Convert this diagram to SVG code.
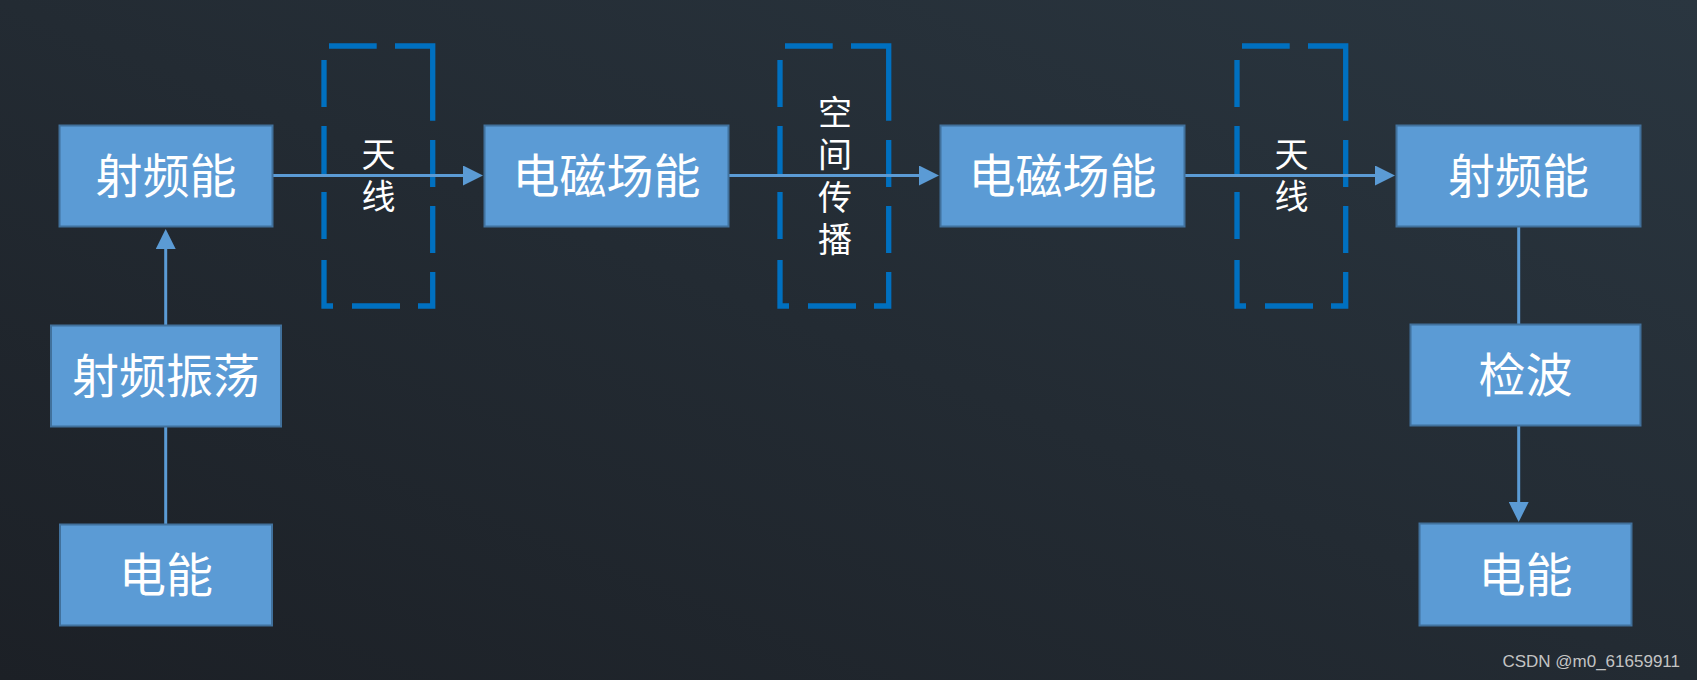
<svg xmlns="http://www.w3.org/2000/svg" width="1697" height="680" viewBox="0 0 1697 680">
<style>
.box{fill:#5B9BD5;stroke:#41719C;stroke-width:2}
.lbl{font-family:"Noto Sans CJK SC","Noto Sans",sans-serif;font-size:47px;fill:#ffffff;text-anchor:middle}
.ant{fill:none;stroke:#0070C0;stroke-width:5.3;stroke-linejoin:miter;stroke-linecap:butt}
.alb{font-family:"Noto Sans CJK SC","Noto Sans",sans-serif;font-size:34px;fill:#ffffff;text-anchor:middle;writing-mode:vertical-rl;letter-spacing:8px}
.con{fill:none;stroke:#5B9BD5;stroke-width:3}
</style>
<defs>
<linearGradient id="bg" x1="0" y1="1" x2="1" y2="0">
<stop offset="0" stop-color="#1c2026"/>
<stop offset="1" stop-color="#2a3640"/>
</linearGradient>
<marker id="ah" viewBox="0 0 20 20" refX="10" refY="10" markerWidth="20" markerHeight="20" markerUnits="userSpaceOnUse" orient="auto">
<path d="M0,0 L20,10 L0,20 Z" fill="#5B9BD5"/>
</marker>
<path id="dash" class="ant" d="M5,0 H52.7 M71,0 H108.7 V74.7 M108.7,94 V141 M108.7,160 V207 M108.7,226 V260 H94 M76,260 H28 M9,260 H0 V214 M0,193 V146 M0,128 V80 M0,61 V14"/>
</defs>
<rect width="1697" height="680" fill="url(#bg)"/>

<g id="antenna1">
<use href="#dash" transform="translate(324,46)"/>
<text class="alb" x="378.5" y="179">天线</text>
</g>
<g id="space">
<use href="#dash" transform="translate(780,46)"/>
<text class="alb" x="835" y="180" style="letter-spacing:8.5px">空间传播</text>
</g>
<g id="antenna2">
<use href="#dash" transform="translate(1237,46)"/>
<text class="alb" x="1291.5" y="179">天线</text>
</g>

<g id="connectors">
<line class="con" x1="273" y1="175.5" x2="473" y2="175.5" marker-end="url(#ah)"/>
<line class="con" x1="729" y1="175.5" x2="929" y2="175.5" marker-end="url(#ah)"/>
<line class="con" x1="1185" y1="175.5" x2="1385" y2="175.5" marker-end="url(#ah)"/>
<line class="con" x1="165.7" y1="325" x2="165.7" y2="239" marker-end="url(#ah)"/>
<line class="con" x1="165.7" y1="427" x2="165.7" y2="524"/>
<line class="con" x1="1518.7" y1="227" x2="1518.7" y2="324"/>
<line class="con" x1="1518.7" y1="426" x2="1518.7" y2="512" marker-end="url(#ah)"/>
</g>

<g id="rf1">
<rect class="box" x="59.5" y="125.5" width="213" height="101"/>
<text class="lbl" x="166" y="193">射频能</text>
</g>
<g id="em1">
<rect class="box" x="484.5" y="125.5" width="244" height="101"/>
<text class="lbl" x="606.5" y="193">电磁场能</text>
</g>
<g id="em2">
<rect class="box" x="940.5" y="125.5" width="244" height="101"/>
<text class="lbl" x="1062.5" y="193">电磁场能</text>
</g>
<g id="rf2">
<rect class="box" x="1396.5" y="125.5" width="244" height="101"/>
<text class="lbl" x="1518.5" y="193">射频能</text>
</g>
<g id="osc">
<rect class="box" x="51" y="325.5" width="230" height="101"/>
<text class="lbl" x="166" y="393">射频振荡</text>
</g>
<g id="power1">
<rect class="box" x="60" y="524.5" width="212" height="101"/>
<text class="lbl" x="166" y="592">电能</text>
</g>
<g id="detect">
<rect class="box" x="1410.5" y="324.5" width="230" height="101"/>
<text class="lbl" x="1525.5" y="392">检波</text>
</g>
<g id="power2">
<rect class="box" x="1419.5" y="523.5" width="212" height="102"/>
<text class="lbl" x="1525.5" y="591.5">电能</text>
</g>

<text x="1680" y="667" font-family="Liberation Sans, Arial, sans-serif" font-size="17" fill="#c4c4c4" text-anchor="end">CSDN @m0_61659911</text>
</svg>
